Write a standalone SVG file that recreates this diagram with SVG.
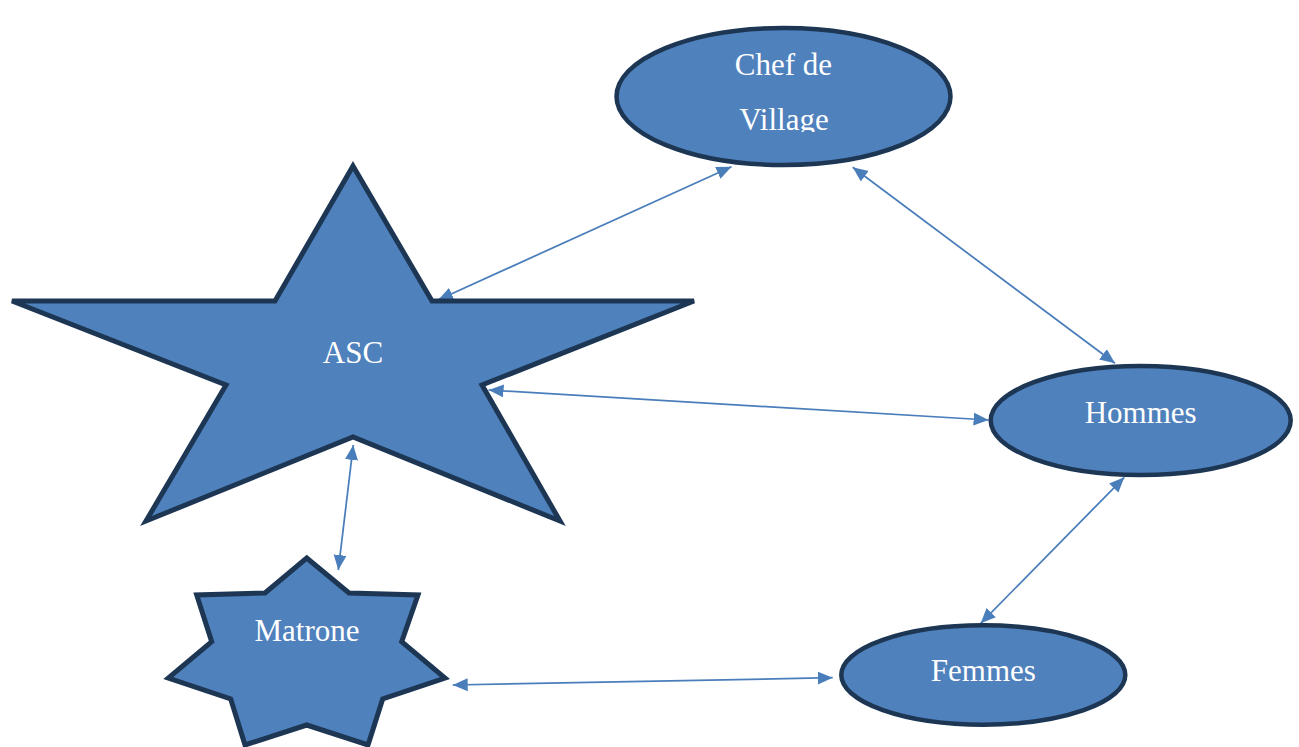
<svg xmlns="http://www.w3.org/2000/svg" width="1299" height="747" viewBox="0 0 1299 747">
  <style>
    .shape { fill: #4f81bd; stroke: #1d3654; stroke-linejoin: miter; }
    .star { stroke-width: 5; }
    .ell { stroke-width: 4.5; }
    .lbl { font-family: "Liberation Serif", "Times New Roman", serif; font-size: 31px; fill: #ffffff; text-anchor: middle; }
    .conn { stroke: #4a7ebb; stroke-width: 1.75; fill: none; marker-start: url(#ah); marker-end: url(#ah); }
  </style>
  <defs>
    <marker id="ah" markerUnits="userSpaceOnUse" markerWidth="17" markerHeight="14" refX="15" refY="6.5" orient="auto-start-reverse">
      <path d="M0,0 L15,6.5 L0,13 z" fill="#4a7ebb"/>
    </marker>
    <clipPath id="chefclip">
      <rect x="600" y="20" width="370" height="112"/>
    </clipPath>
  </defs>
  <rect width="1299" height="747" fill="#ffffff"/>

  <g id="connectors">
    <line class="conn" x1="438" y1="300" x2="731.5" y2="166.7"/>
    <line class="conn" x1="852.7" y1="167.3" x2="1115" y2="363.3"/>
    <line class="conn" x1="488.6" y1="390" x2="988.6" y2="420"/>
    <line class="conn" x1="353.3" y1="445" x2="338.3" y2="570"/>
    <line class="conn" x1="1124.3" y1="477.3" x2="980.7" y2="623.3"/>
    <line class="conn" x1="452.7" y1="685" x2="832.7" y2="677.7"/>
  </g>

  <g id="node-chef">
    <ellipse class="shape ell" cx="783.5" cy="96.5" rx="167" ry="68.5"/>
    <g clip-path="url(#chefclip)">
      <text class="lbl" x="783.5" y="75">Chef de</text>
      <text class="lbl" x="784" y="130">Village</text>
    </g>
  </g>

  <g id="node-asc">
    <polygon class="shape star" points="353,166 432,301 694,301 482,385 560,521 353,437 146,521 226,385 12,301 275,301"/>
    <text class="lbl" x="353" y="363">ASC</text>
  </g>

  <g id="node-hommes">
    <ellipse class="shape ell" cx="1140.7" cy="420.5" rx="150" ry="54.5"/>
    <text class="lbl" x="1140.7" y="422.5">Hommes</text>
  </g>

  <g id="node-matrone">
    <polygon class="shape star" points="306.7,558 349,593 418,595 401.7,641.7 445,678 382.7,699 368,745 306.7,725 245,745 230.7,699 168.3,678 211.7,641.7 196.7,595 265,593"/>
    <text class="lbl" x="307" y="641">Matrone</text>
  </g>

  <g id="node-femmes">
    <ellipse class="shape ell" cx="983.3" cy="675" rx="142" ry="49.7"/>
    <text class="lbl" x="983.3" y="681">Femmes</text>
  </g>
</svg>
